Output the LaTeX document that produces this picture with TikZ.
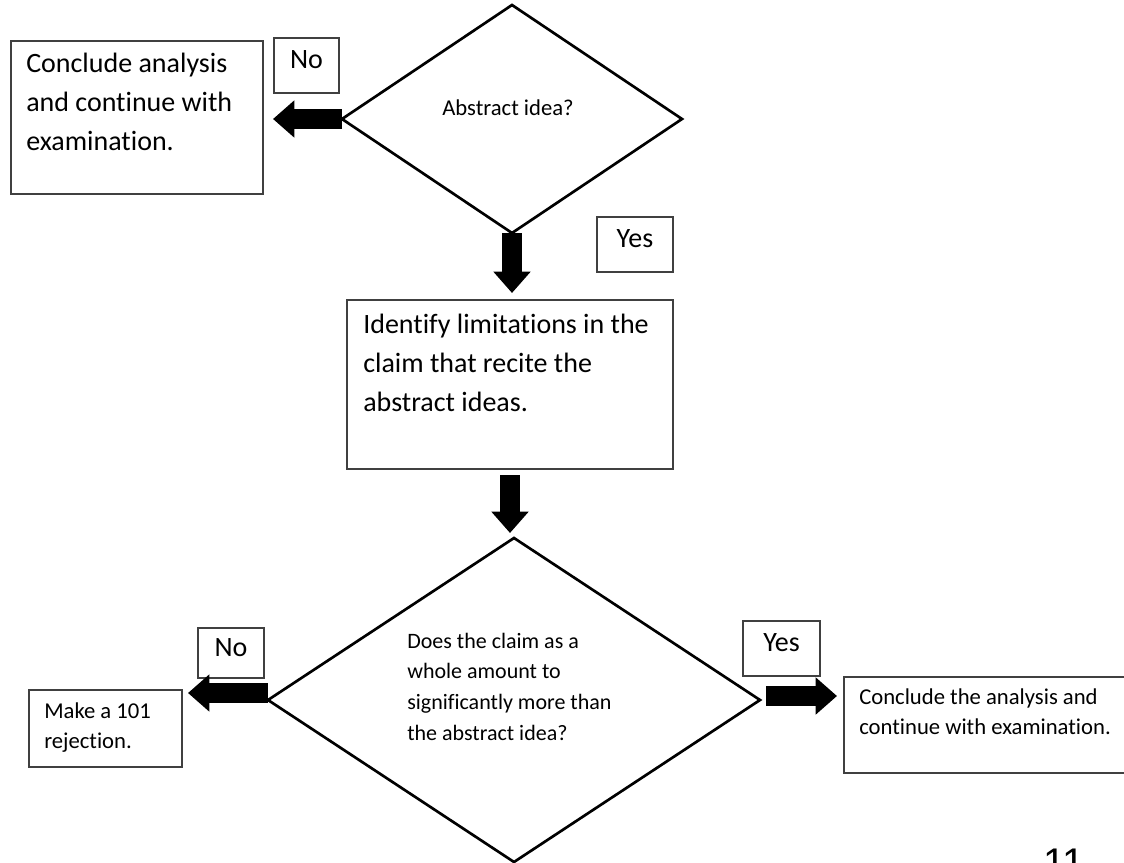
\documentclass[tikz,border=0pt]{standalone}
\usepackage{fontspec}
\setmainfont{Carlito}[Ligatures=NoCommon]
\newfontfamily\pagefont{Liberation Sans}
\usetikzlibrary{shapes.geometric,arrows.meta}

\tikzset{
  box/.style={draw=black!75, line width=0.9pt, inner sep=0pt, outer sep=0pt, anchor=north west},
  tag/.style={box, text height=0.75em, text depth=0.25em, font=\fontsize{21}{25}\selectfont},
  query/.style={diamond, draw=black, line width=2pt, inner sep=0pt, outer sep=0pt},
  bigtxt/.style={anchor=base west, inner sep=0pt, text width=260pt, align=flush left, font=\fontsize{21}{29.25}\selectfont},
  smalltxt/.style={anchor=base west, inner sep=0pt, text width=260pt, align=flush left, font=\fontsize{17}{23}\selectfont},
  blockarrow/.style={line width=15pt, -{Triangle[length=16pt,width=27pt]}}
}

\begin{document}
\begin{tikzpicture}[x=0.75pt,y=0.75pt,yscale=-1,xscale=1]

            \useasboundingbox (0,0) rectangle (1124,863);

            % Decision Shapes
            \node [query, minimum width=255pt, minimum height=171pt] (qabs)  at (512,119) {};
            \node [query, minimum width=369pt, minimum height=243pt] (qmore) at (514,700) {};

            % Boxes
            \node [box, minimum width=189pt,   minimum height=114.75pt] (concl)  at ( 11, 41) {};
            \node [box, minimum width=244.5pt, minimum height=126.75pt] (limits) at (347,300) {};
            \node [box, minimum width=114.75pt,minimum height=57.75pt]  (rej)    at ( 29,690) {};
            \node [box, minimum width=225pt,   minimum height=72pt]     (cont)   at (844,677) {};

            % Yes/No Tags
            \node [tag, minimum width=48.75pt, minimum height=41.25pt] (noa)  at (274, 38) {No};
            \node [tag, minimum width=57pt,    minimum height=41.25pt] (yesa) at (597,217) {Yes};
            \node [tag, minimum width=49.5pt,  minimum height=37.5pt]  (nob)  at (198,628) {No};
            \node [tag, minimum width=57.75pt, minimum height=41.25pt] (yesb) at (743,621) {Yes};

            % Texts
            \node [bigtxt]   (concltxt)  at ( 26, 73) {Conclude analysis\\and continue with\\examination.};
            \node [bigtxt]   (limitstxt) at (363,333) {Identify limitations in the\\claim that recite the\\abstract ideas.};
            \node [smalltxt] (qabstxt)   at (442,116) {Abstract idea?};
            \node [smalltxt, font=\fontsize{16.5}{23}\selectfont] (qmoretxt) at (407,648) {Does the claim as a\\whole amount to\\significantly more than\\the abstract idea?};
            \node [smalltxt, font=\fontsize{17}{22.5}\selectfont] (rejtxt) at ( 44,718) {Make a 101\\rejection.};
            \node [smalltxt] (conttxt)   at (859,704) {Conclude the analysis and\\continue with examination.};
            \node [anchor=base west, inner sep=0pt, font=\pagefont\fontsize{30}{32}\selectfont] (pagenum) at (1043,876) {11};

            % Block Arrows
            \coordinate (lowleft)  at ([yshift=-5.25pt]qmore.west);
            \coordinate (lowright) at ([yshift=-3pt]qmore.east);
            \draw [blockarrow, shorten >=7.5pt] (qabs.west) -- (qabs.west -| concl.east);
            \draw [blockarrow, shorten >=5.25pt] (qabs.south) -- (qabs.south |- limits.north);
            \draw [blockarrow, shorten <=4.5pt, shorten >=3.75pt] (limits.south) -- (limits.south |- qmore.north);
            \draw [blockarrow, shorten >=4.5pt] (lowleft) -- (lowleft -| rej.east);
            \draw [blockarrow, shorten <=4.5pt, shorten >=5.25pt] (lowright) -- (lowright -| cont.west);

\end{tikzpicture}
\end{document}
